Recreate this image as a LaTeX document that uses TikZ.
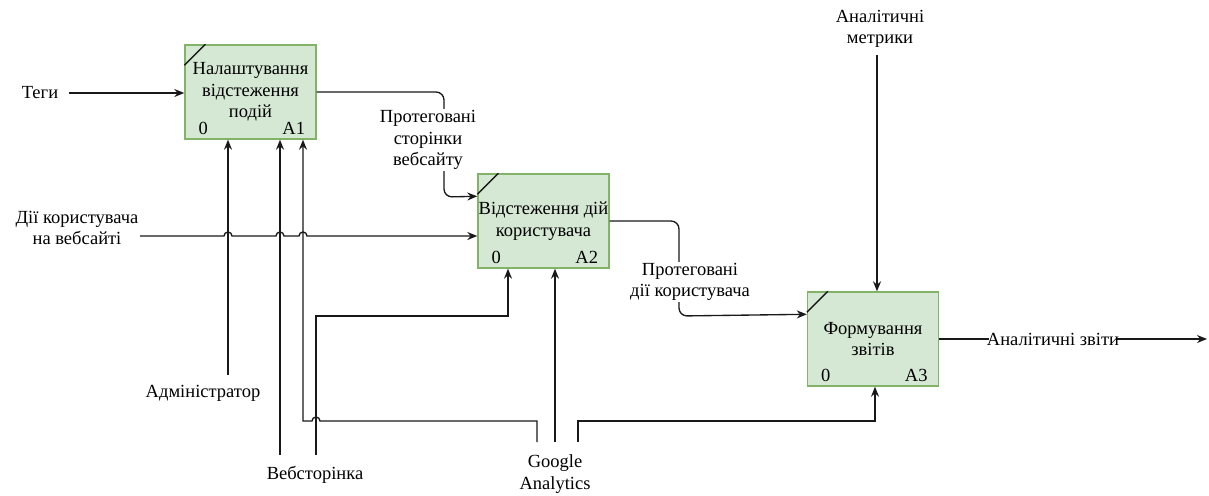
\documentclass[tikz,border=0pt]{standalone}
\usepackage{fontspec}
\setmainfont{Liberation Serif}
\newfontfamily\diagfont{Liberation Serif}
\usetikzlibrary{arrows.meta}
\definecolor{boxfill}{HTML}{D5E8D4}
\definecolor{boxline}{HTML}{82B366}
\begin{document}
\begin{tikzpicture}[x=1pt,y=-1pt,
  every node/.style={font=\diagfont\fontsize{18.5}{21.5}\selectfont, inner sep=1pt},
  func/.style={draw=boxline, fill=boxfill, line width=1.4pt,
    minimum width=131pt, minimum height=94pt, inner sep=0pt},
  lbl/.style={align=center, fill=white, inner sep=1pt},
  wire/.style={line width=1.35pt, draw=black!90},
  arr/.style={wire, -{Stealth[length=10pt,width=8pt]}},
  flow/.style={arr, rounded corners=8pt},
  hop/.style={radius=4pt}
  ]
\useasboundingbox (0,0) rectangle (1209,495);

% function boxes
\node[func] (A1) at (250.5,92) {};
\node[func] (A2) at (543.5,221) {};
\node[func] (A3) at (873,339) {};

\foreach \b/\t/\n in {A1/{Налаштування\\відстеження\\подій}/A1,
                       A2/{Відстеження дій\\користувача}/A2,
                       A3/{Формування\\звітів}/A3}{
  \node[align=center] (\b txt) at (\b.center) {\t};
  \node (\b zero) at ([xshift=19pt,yshift=11pt]\b.south west) {0};
  \node (\b num) at ([xshift=-23pt,yshift=11pt]\b.south east) {\n};
  \draw[wire] ([yshift=-21pt]\b.north west) -- ([xshift=21pt]\b.north west);
}

% labels
\node (tegy) at (40,93) {Теги};
\node[align=center] (dii) at (77,228) {Дії користувача\\на вебсайті};
\node[align=center] (metr) at (880,29) {Аналітичні\\метрики};
\node (adm) at (203,393) {Адміністратор};
\node (web) at (315,475) {Вебсторінка};
\node[align=center] (ga) at (555,474) {Google\\Analytics};

% inputs
\draw[arr] ([xshift=10pt]tegy.east) -- (tegy.east -| A1.west);
\coordinate (diiS) at (140,236);
\draw[arr] (diiS) -- (224,236) arc[start angle=180,end angle=0,hop]
  -- (276,236) arc[start angle=180,end angle=0,hop]
  -- (299,236) arc[start angle=180,end angle=0,hop]
  -- (diiS -| A2.west);

% flows between functions
\draw[flow] (A1.east) -- (444,92) -- (444,197) -- ([yshift=-23pt]A2.north west);
\node[lbl] (tagpages) at (428,140) {Протеговані\\сторінки\\вебсайту};
\draw[flow] (A2.east) -- (679,221) -- (679,316) -- ([yshift=-23pt]A3.north west);
\node[lbl] (tagacts) at (690,282) {Протеговані\\дії користувача};

% control
\draw[arr] ([yshift=-6pt]metr.south -| 877,0) -- ([xshift=4pt]A3.north);

% output
\coordinate (outE) at (1207,339);
\draw[arr] (A3.east) -- (outE);
\node[fill=white, inner xsep=-2pt] (report) at (1053,339) {Аналітичні звіти};

% mechanisms
\draw[arr] ([xshift=-22.5pt]A1.south |- 0,375) -- ([xshift=-22.5pt]A1.south);
\draw[arr] ([xshift=29.5pt]A1.south |- 0,455) -- ([xshift=29.5pt]A1.south);
\draw[arr] (316,455) -- (316,316) -- (508,316) -- ([xshift=-35.5pt]A2.south);
\draw[arr] (537,442) -- (537,421) -- (320,421) arc[start angle=0,end angle=180,hop]
  -- (303,421) -- ([xshift=52.5pt]A1.south);
\draw[arr] ([xshift=11.5pt]A2.south |- 0,442) -- ([xshift=11.5pt]A2.south);
\draw[arr] (578,442) -- (578,421) -- (875,421) -- ([xshift=2pt]A3.south);
\end{tikzpicture}
\end{document}
